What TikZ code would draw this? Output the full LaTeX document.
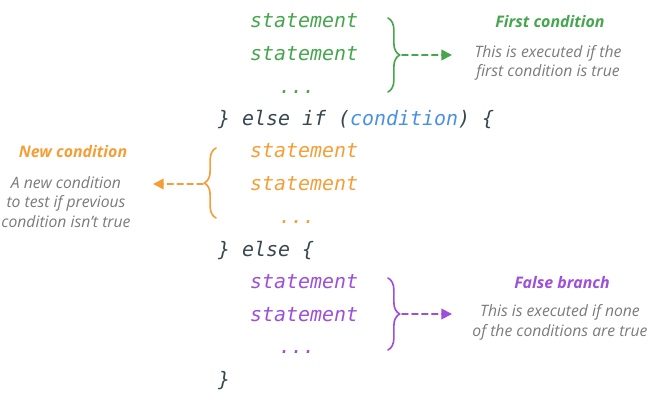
\documentclass[tikz,border=0pt]{standalone}
\usepackage{fontspec}
\setmainfont{Open Sans}
\newfontfamily\codefont{DejaVu Sans Mono}
\usetikzlibrary{arrows.meta,decorations.pathreplacing}
\definecolor{grn}{HTML}{45A64D}
\definecolor{org}{HTML}{F59E38}
\definecolor{prp}{HTML}{9E4FD8}
\definecolor{blu}{HTML}{4A90E2}
\definecolor{drk}{HTML}{37474F}
\definecolor{gry}{HTML}{7A7A7A}
\tikzset{
  code/.style={anchor=base west,inner sep=0pt,font=\codefont\itshape\fontsize{17}{20}\selectfont},
  head/.style={anchor=base,inner sep=0pt,font=\bfseries\itshape\fontsize{13.6}{16}\selectfont},
  note/.style={anchor=base,inner sep=0pt,align=center,text=gry,font=\itshape\fontsize{13.4}{16.5}\selectfont},
  curly/.style={decorate,decoration={brace,amplitude=10pt},line width=1.4pt},
  pointer/.style={dashed,dash pattern=on 5pt off 3.5pt,line width=1.5pt,-{Triangle[length=9pt,width=9pt]}}
}
\begin{document}
\begin{tikzpicture}[x=0.03cm,y=-0.03cm,line join=round,line cap=round]
  \useasboundingbox (0,0) rectangle (650,400);
  % code lines
  \foreach \y/\c/\n in {28/grn/ga,61/grn/gb,158/org/oa,191/org/ob,288/prp/pa,321/prp/pb}
    \node[code,text=\c] (\n) at (250,\y) {statement};
  \foreach \y/\c/\n in {94/grn/gd,223/org/od,353/prp/pd}
    \node[code,text=\c] (\n) at (279,\y) {...};
  \node[code,text=drk] (elif) at (218,126) {\} else if (\textcolor{blu}{condition}) \{};
  \node[code,text=drk] (els) at (218,256) {\} else \{};
  \node[code,text=drk] (fin) at (218,386) {\}};
  % braces
  \draw[curly,grn] (388,18) -- (388,92);
  \draw[curly,org] (216,218) -- (216,148);
  \draw[curly,prp] (388,278) -- (388,350);
  \coordinate (gt) at (402,55);
  \coordinate (ge) at (452,55);
  \coordinate (ot) at (203,184);
  \coordinate (oe) at (153,184);
  \coordinate (pt) at (402,314);
  \coordinate (pe) at (452,314);
  \draw[pointer,grn] (gt) -- (ge);
  \draw[pointer,org] (ot) -- (oe);
  \draw[pointer,prp] (pt) -- (pe);
  % labels
  \node[head,text=grn] (gh) at (550,28) {First condition};
  \node[note] (gn) at (548,77) {This is executed if the\\first condition is true};
  \node[head,text=org] (oh) at (73,158) {New condition};
  \node[note] (on) at (66,227) {A new condition\\to test if previous\\condition isn’t true};
  \node[head,text=prp] (ph) at (562,288) {False branch};
  \node[note] (pn) at (560,336) {This is executed if none\\of the conditions are true};
\end{tikzpicture}
\end{document}
